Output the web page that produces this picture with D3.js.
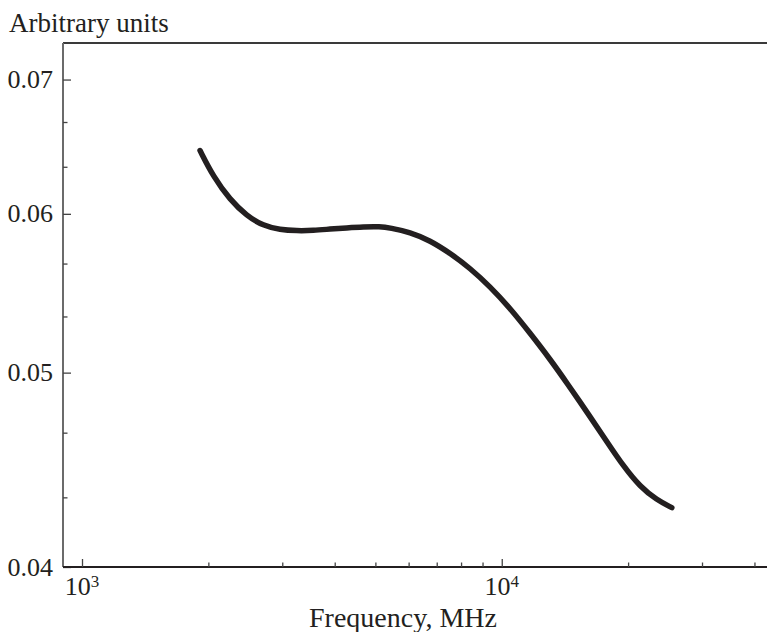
<!DOCTYPE html>
<html>
<head>
<meta charset="utf-8">
<script src="https://cdn.jsdelivr.net/npm/d3@7"></script>
<style>
  body { margin: 0; background: #fff; }
  svg text { font-family: "Liberation Serif", "DejaVu Serif", serif; fill: #231f20; }
</style>
</head>
<body>
<div id="chart"></div>
<script>
////////////////////////// data //////////////////////////
var freq = [1911, 2055, 2253, 2469, 2704, 2963, 3248, 3557, 3898, 4272, 4680, 5129, 5419,
            6046, 6749, 7532, 8406, 9378, 10466, 11679, 13034, 14288, 16234, 17790, 19490,
            21360, 23410, 25420];
var amp = [0.06452, 0.06262, 0.06097, 0.05986, 0.05918, 0.05891, 0.05884, 0.05886, 0.05896,
           0.05904, 0.05911, 0.05913, 0.05904, 0.05875, 0.05819, 0.05735, 0.05637, 0.05519,
           0.05384, 0.05232, 0.05078, 0.04942, 0.04754, 0.04620, 0.04491, 0.04386, 0.04320,
           0.04282];
var yMajor = [0.04, 0.05, 0.06, 0.07];
var yMinor = [0.04333, 0.04667, 0.05333, 0.05667, 0.06333, 0.06667];
var xMajor = [1000, 10000];
var xMinor = [2000, 3000, 4000, 5000, 6000, 7000, 8000, 9000, 20000, 30000, 40000];

////////////////////////// layout //////////////////////////
var wdim = 767, hdim = 632;
var pLeft = 63, pRight = 767, pTop = 43, pBottom = 567;

var svg = d3.select("#chart").append("svg")
  .attr("width", wdim)
  .attr("height", hdim);

var x = d3.scaleLog().domain([901, 42850]).range([pLeft, pRight]);
var y = d3.scaleLog().domain([0.04, 0.0730]).range([pBottom, pTop]);

// top border
svg.append("line")
  .attr("x1", pLeft).attr("x2", pRight)
  .attr("y1", pTop).attr("y2", pTop)
  .attr("stroke", "#3a3a3a").attr("stroke-width", 2);

// y axis, ticks point inward
var yAxis = svg.append("g")
  .attr("transform", "translate(" + pLeft + ",0)")
  .call(d3.axisRight(y).tickValues(yMajor).tickSize(8).tickFormat(""));
svg.append("g")
  .attr("transform", "translate(" + pLeft + ",0)")
  .call(d3.axisRight(y).tickValues(yMinor).tickSize(4.5).tickFormat(""))
  .select(".domain").remove();
yAxis.select(".domain")
  .attr("d", "M0," + pTop + "V" + pBottom)
  .attr("stroke", "#6b6b6b").attr("stroke-width", 2);

svg.selectAll(".ylab")
  .data(yMajor)
  .enter().append("text")
  .attr("class", "ylab")
  .attr("x", pLeft - 10)
  .attr("y", function(d){ return y(d); })
  .attr("dy", "0.33em")
  .attr("text-anchor", "end")
  .style("font-size", "26px")
  .text(function(d){ return d3.format(".2f")(d); });

// x axis
var xAxis = svg.append("g")
  .attr("transform", "translate(0," + pBottom + ")")
  .call(d3.axisTop(x).tickValues(xMajor).tickSize(8).tickFormat(""));
svg.append("g")
  .attr("transform", "translate(0," + pBottom + ")")
  .call(d3.axisTop(x).tickValues(xMinor).tickSize(4.5).tickFormat(""))
  .select(".domain").remove();
xAxis.select(".domain")
  .attr("d", "M" + pLeft + ",0H" + pRight)
  .attr("stroke", "#231f20").attr("stroke-width", 1.8);
svg.selectAll("g .tick line").attr("stroke", "#444").attr("stroke-width", 1.3);

var xl = svg.selectAll(".xlab")
  .data(xMajor)
  .enter().append("text")
  .attr("class", "xlab")
  .attr("x", function(d){ return x(d); })
  .attr("y", 595)
  .attr("text-anchor", "middle")
  .style("font-size", "26px");
xl.append("tspan").text("10");
xl.append("tspan")
  .attr("dy", -8)
  .style("font-size", "17px")
  .text(function(d){ return Math.round(Math.log10(d)); });

// titles
svg.append("text")
  .attr("x", 9).attr("y", 32)
  .style("font-size", "27px")
  .text("Arbitrary units");

svg.append("text")
  .attr("x", 403).attr("y", 627)
  .attr("text-anchor", "middle")
  .style("font-size", "28px")
  .text("Frequency, MHz");

// curve
var pts = freq.map(function(f, i){ return [f, amp[i]]; });
var line = d3.line()
  .x(function(d){ return x(d[0]); })
  .y(function(d){ return y(d[1]); })
  .curve(d3.curveBasis);

svg.append("path")
  .datum(pts)
  .attr("d", line)
  .attr("fill", "none")
  .attr("stroke", "#231f20")
  .attr("stroke-width", 5.5)
  .attr("stroke-linecap", "round");
</script>
</body>
</html>
